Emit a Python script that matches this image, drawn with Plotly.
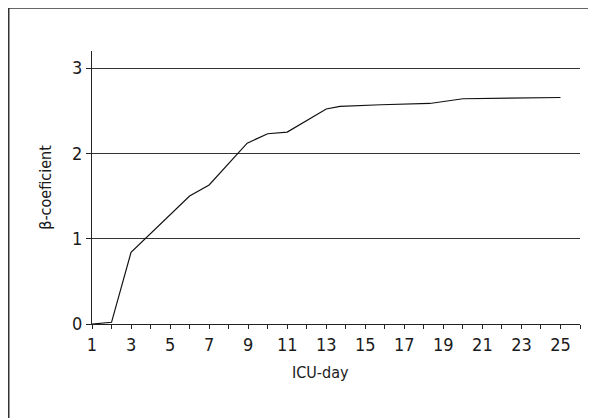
import plotly.graph_objects as go

# Data
icu_day = [1, 2, 3, 6, 7, 8.95, 10, 11, 13, 13.7, 15.8, 18.3, 20, 25]
beta_coef = [0.0, 0.02, 0.84, 1.50, 1.63, 2.12, 2.23, 2.25, 2.52, 2.55, 2.57, 2.585, 2.64, 2.655]

x_tickvals = list(range(1, 27))
x_ticktext = [str(v) if v % 2 == 1 and v <= 25 else "" for v in x_tickvals]
y_tickvals = [0, 1, 2, 3]

# The page body has an 8px default margin, so the figure is drawn 8px smaller.
OFF = 8
W, H = 596 - OFF, 418 - OFF
ML, MR, MT, MB = 92 - OFF, 16, 51 - OFF, 418 - 324
PW, PH = W - ML - MR, H - MT - MB

FONT = "Liberation Sans Narrow, DejaVu Sans Condensed, sans-serif"
TXT = "#1a1a1a"

fig = go.Figure()
fig.add_trace(go.Scatter(x=icu_day, y=beta_coef, mode="lines",
                         line=dict(color="#111111", width=1.2),
                         showlegend=False, hoverinfo="skip"))

def px_x(p):
    return (p - ML) / PW

def px_y(p):
    return (H - MB - p) / PH

frame_color = "#333333"
fig.update_layout(
    width=W, height=H,
    margin=dict(l=ML, r=MR, t=MT, b=MB, pad=0),
    paper_bgcolor="white", plot_bgcolor="white",
    font=dict(family=FONT, size=16, color=TXT),
    xaxis=dict(range=[1, 26], tickvals=x_tickvals, ticktext=x_ticktext,
               ticks="outside", ticklen=4, tickwidth=1, tickcolor="#222222",
               showline=True, linecolor="#222222", linewidth=1.2,
               showgrid=False, zeroline=False, fixedrange=True,
               tickfont=dict(size=18, family=FONT, color=TXT)),
    yaxis=dict(range=[0, 3.2], tickvals=y_tickvals,
               ticks="outside", ticklen=5, tickwidth=1, tickcolor="#222222",
               showline=True, linecolor="#222222", linewidth=1.2,
               showgrid=True, gridcolor="#333333", gridwidth=1,
               zeroline=False, fixedrange=True,
               title=dict(text="β-coeficient", font=dict(size=16, family=FONT, color=TXT), standoff=16),
               tickfont=dict(size=18, family=FONT, color=TXT)),
    shapes=[
        dict(type="line", xref="paper", yref="paper",
             x0=px_x(0.75), x1=px_x(0.75), y0=px_y(H + 2), y1=px_y(-0.5),
             line=dict(color=frame_color, width=1.5)),
        dict(type="line", xref="paper", yref="paper",
             x0=px_x(0), x1=px_x(W + 2), y0=px_y(0), y1=px_y(0),
             line=dict(color=frame_color, width=1.5)),
    ],
    annotations=[
        dict(text="ICU-day", xref="x", yref="paper", x=12.7, y=px_y(372 - OFF),
             xanchor="center", yanchor="middle", showarrow=False,
             font=dict(size=16, family=FONT, color=TXT)),
    ],
)

fig.write_html("out.html")
